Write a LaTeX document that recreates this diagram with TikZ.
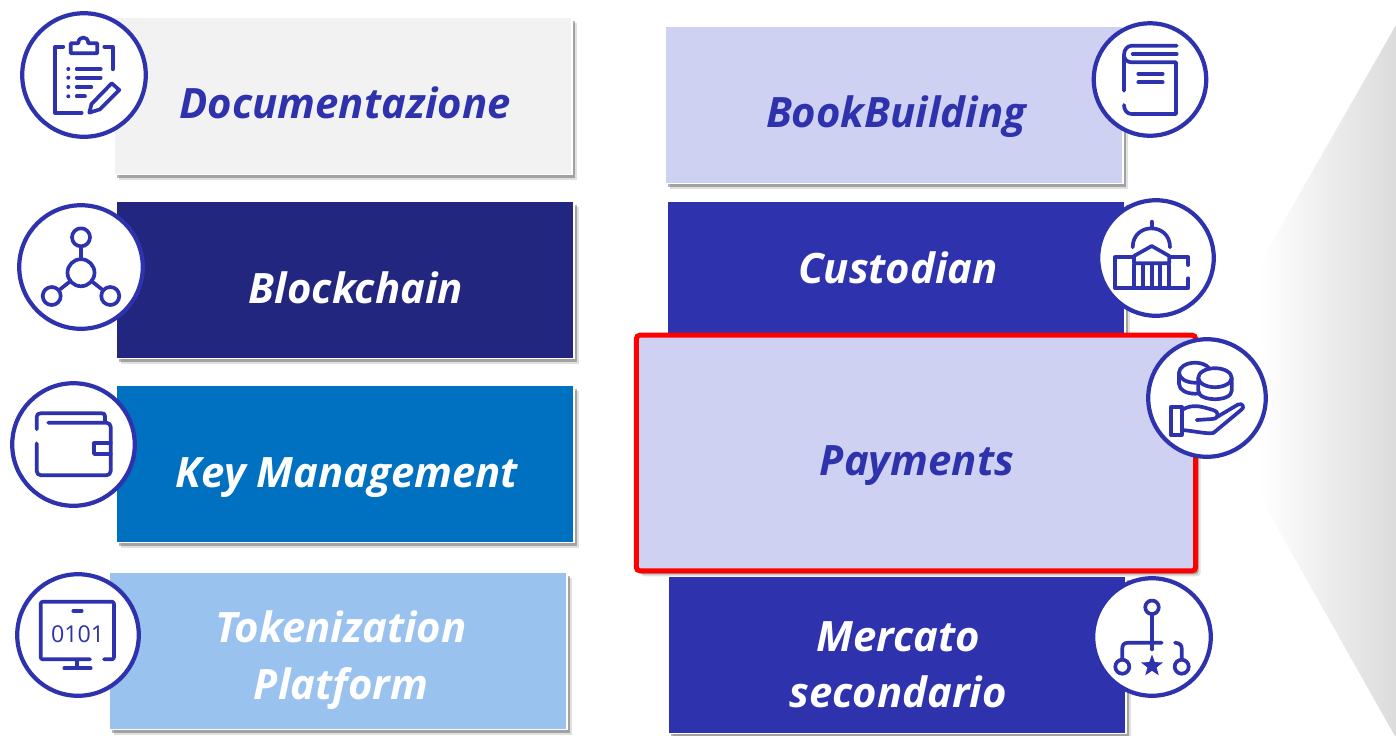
\documentclass[tikz,border=0pt]{standalone}
\usepackage{fontspec}
\setmainfont{Open Sans}
\usetikzlibrary{shadows,shapes.geometric}
\definecolor{docgrey}{HTML}{F2F2F2}
\definecolor{chainblue}{HTML}{22267F}
\definecolor{keyblue}{HTML}{0070C0}
\definecolor{tokenblue}{HTML}{9AC2EF}
\definecolor{paleblue}{HTML}{CFD1F2}
\definecolor{royalblue}{HTML}{2E33AD}
\tikzset{
    softshadow/.style={
        drop shadow={shadow xshift=.05cm, shadow yshift=-.055cm, fill=black, opacity=.12},
        drop shadow={shadow xshift=.03cm, shadow yshift=-.035cm, fill=black, opacity=.28}},
    box/.style={draw=white, line width=.5pt, minimum width=4.57cm, minimum height=1.57cm, softshadow},
    lbl/.style={font=\fontsize{11.9}{16.2}\selectfont\bfseries\itshape, align=center, anchor=base},
    ring/.style={circle, draw=royalblue, fill=white, line width=1.2pt, inner sep=0pt},
    icon/.style={draw=royalblue, line width=1.05pt, line cap=round, line join=round},
    dot/.style={circle, icon, inner sep=0pt}
}
\begin{document}
\begin{tikzpicture}[x=0.01cm, y=-0.01cm]
    \useasboundingbox (0,0) rectangle (1396,735);

    \shade [left color=white, right color=black!14] (1396,25) -- (1260,263) -- (1260,497) -- (1396,738) -- cycle;

    \node [box, fill=docgrey] (documentazione) at (343,96) {};
    \node [box, fill=chainblue] (blockchain) at (345,280) {};
    \node [box, fill=keyblue] (keymanagement) at (345,464) {};
    \node [box, fill=tokenblue] (tokenization) at (338,651) {};
    \node [box, fill=paleblue] (bookbuilding) at (894,105) {};
    \node [box, fill=royalblue] (custodian) at (896,280) {};
    \node [box, fill=royalblue] (mercato) at (897,655) {};
    \node [box, draw=red, line width=.05cm, rounded corners=1pt, fill=paleblue, minimum width=5.59cm, minimum height=2.355cm] (payments) at (916,453) {};

    \node [lbl, text=royalblue] (documentazionelabel) at (345,118) {Documentazione};
    \node [lbl, text=white] (blockchainlabel) at (356,303) {Blockchain};
    \node [lbl, text=white] (keymanagementlabel) at (347,487) {Key Management};
    \node [lbl, text=white] (tokenizationlabel) at (341,642) {Tokenization};
    \node [lbl, text=white] (platformlabel) at (341,699) {Platform};
    \node [lbl, text=royalblue] (bookbuildinglabel) at (896,127) {BookBuilding};
    \node [lbl, text=white] (custodianlabel) at (898,283) {Custodian};
    \node [lbl, text=royalblue] (paymentslabel) at (917,475) {Payments};
    \node [lbl, text=white] (mercatolabel) at (898,651) {Mercato};
    \node [lbl, text=white] (secondariolabel) at (898,707) {secondario};

    \node [ring, minimum size=1.235cm] (docring) at (84,75) {};
    \node [ring, minimum size=1.235cm] (chainring) at (81,267) {};
    \node [ring, minimum size=1.225cm] (keyring) at (73.5,444.5) {};
    \node [ring, minimum size=1.215cm] (tokenring) at (78,635) {};
    \node [ring, minimum size=1.125cm] (bookring) at (1150,79.5) {};
    \node [ring, minimum size=1.155cm] (custodianring) at (1156,258) {};
    \node [ring, minimum size=1.175cm] (paymentsring) at (1207,398) {};
    \node [ring, minimum size=1.175cm] (mercatoring) at (1152,637) {};

    \draw [icon] (63.3,46.7) -- (55,46.7) -- (55,112.7) -- (81.7,112.7);
    \draw [icon] (104.3,46.7) -- (112.7,46.7) -- (112.7,69.3);
    \draw [icon] (70.7,53.3) -- (70.7,43.3) -- (78.3,43.3) .. controls (78.3,35.5) and (88.3,35.5) .. (88.3,43.3) -- (97.3,43.3) -- (97.3,53.3) -- cycle;
    \foreach \y/\xend in {69/100.7, 77.7/100.7, 87/91.3, 96.3/85} {
        \fill [royalblue] (68.3,\y) circle [radius=2];
        \draw [icon] (76.7,\y) -- (\xend,\y);
    }
    \draw [icon] (89.3,112.7) -- (91.5,104) -- (111.7,83.3) -- (119.3,90) -- (100,109.3) -- cycle;

    \node [dot, minimum size=.27cm] (chainhub) at (81,272.7) {};
    \node [dot, minimum size=.18cm] (chaintop) at (81,237.3) {};
    \node [dot, minimum size=.18cm] (chainleft) at (51.7,296) {};
    \node [dot, minimum size=.18cm] (chainright) at (110.3,296) {};
    \draw [icon] (chainhub) -- (chaintop);
    \draw [icon] (chainhub) -- (chainleft);
    \draw [icon] (chainhub) -- (chainright);

    \draw [icon] (36.7,429.3) -- (36.7,417) .. controls (36.7,414.5) and (38,413.3) .. (40.5,413.3) -- (102,413.3) .. controls (104,413.3) and (105,414.5) .. (105,416) -- (105,421);
    \draw [icon, rounded corners=1.2pt] (48.3,422.7) -- (110.7,422.7) -- (110.7,475.3) -- (36.7,475.3) -- (36.7,443.3);
    \draw [icon] (110.7,443.3) -- (94,443.3) -- (94,454) -- (110.7,454);

    \draw [icon, rounded corners=.6pt] (90,659.3) -- (40.7,659.3) -- (40.7,601.7) -- (114,601.7) -- (114,659.3) -- (104,659.3);
    \draw [icon] (73.3,610.7) -- (81.7,610.7);
    \node [font=\fontsize{6.6}{8}\selectfont, text=royalblue, inner sep=0pt] (tokenbits) at (77.7,634) {0101};
    \draw [icon] (77.3,660) -- (77.3,668.3);
    \draw [icon] (64.3,668.3) -- (90.7,668.3);

    \draw [icon] (1176.7,45.7) -- (1131.7,45.7) .. controls (1127,45.7) and (1124,50) .. (1124,55) -- (1124,90.7);
    \draw [icon] (1124,105) .. controls (1124,110) and (1127,114) .. (1131.7,114) -- (1176,114) -- (1176,62.3) -- (1131.7,62.3) .. controls (1127,62.3) and (1124,59) .. (1124,55);
    \draw [icon] (1132.7,54) -- (1176.7,54);
    \draw [icon] (1138.3,73.7) -- (1162.7,73.7);
    \draw [icon] (1138.3,82.3) -- (1162.7,82.3);

    \draw [icon] (1132.7,247.3) .. controls (1132.7,222) and (1170,222) .. (1170,247.3);
    \draw [icon] (1151.7,221.7) -- (1151.7,228.3);
    \draw [icon] (1134,256) -- (1151.7,246) -- (1169.3,256) -- (1169.3,263.3) -- (1134,263.3) -- cycle;
    \draw [icon] (1132.7,257.3) -- (1115,257.3) -- (1115,288.3) -- (1188.3,288.3) -- (1188.3,278.3);
    \draw [icon] (1170.7,257.3) -- (1188.3,257.3) -- (1188.3,265);
    \foreach \x in {1134,1142.7,1151.7,1160,1168.7} {
        \draw [icon] (\x,265) -- (\x,288.3);
    }

    \draw [icon, fill=white] (1179,372.7) -- (1179,383.7) .. controls (1179,397) and (1211,397) .. (1211,383.7) -- (1211,372.7);
    \draw [icon, fill=white] (1195,372.7) ellipse [x radius=16, y radius=10];
    \draw [icon, fill=white] (1198.3,377.7) -- (1198.3,390.7) .. controls (1198.3,402) and (1231.7,402) .. (1231.7,390.7) -- (1231.7,377.7);
    \draw [icon, fill=white] (1215,377.7) ellipse [x radius=16.7, y radius=9.5];
    \draw [icon] (1181.7,406.7) -- (1170.7,406.7) -- (1170.7,435) -- (1181.7,435) -- cycle;
    \draw [icon] (1181.7,410) .. controls (1193,403) and (1203,407) .. (1213,410) .. controls (1220,412) and (1219,419) .. (1212,419) -- (1196.7,420);
    \draw [icon] (1217,417) -- (1238,404.5) .. controls (1243,402.5) and (1245,408) .. (1241,410) -- (1213.3,433) .. controls (1205,434) and (1195,431) .. (1181.7,430);

    \node [dot, minimum size=.135cm] (mercatotop) at (1152,607.3) {};
    \node [dot, minimum size=.14cm] (mercatoleft) at (1122.3,666.7) {};
    \node [dot, minimum size=.14cm] (mercatoright) at (1181.7,666.7) {};
    \coordinate (mercatostem) at (1152,649.3);
    \draw [icon] (mercatotop) -- (mercatostem);
    \draw [icon] (1161.7,642.7) -- (1128.3,642.7) .. controls (1124,642.7) and (1122.3,645) .. (1122.3,648.3) -- (mercatoleft);
    \draw [icon] (1175,642.7) .. controls (1179.5,643) and (1181.7,645) .. (1181.7,648.3) -- (mercatoright);
    \node [star, star points=5, star point ratio=2.4, fill=royalblue, minimum size=.23cm, inner sep=0pt] (mercatostar) at (1152,666) {};
\end{tikzpicture}
\end{document}
